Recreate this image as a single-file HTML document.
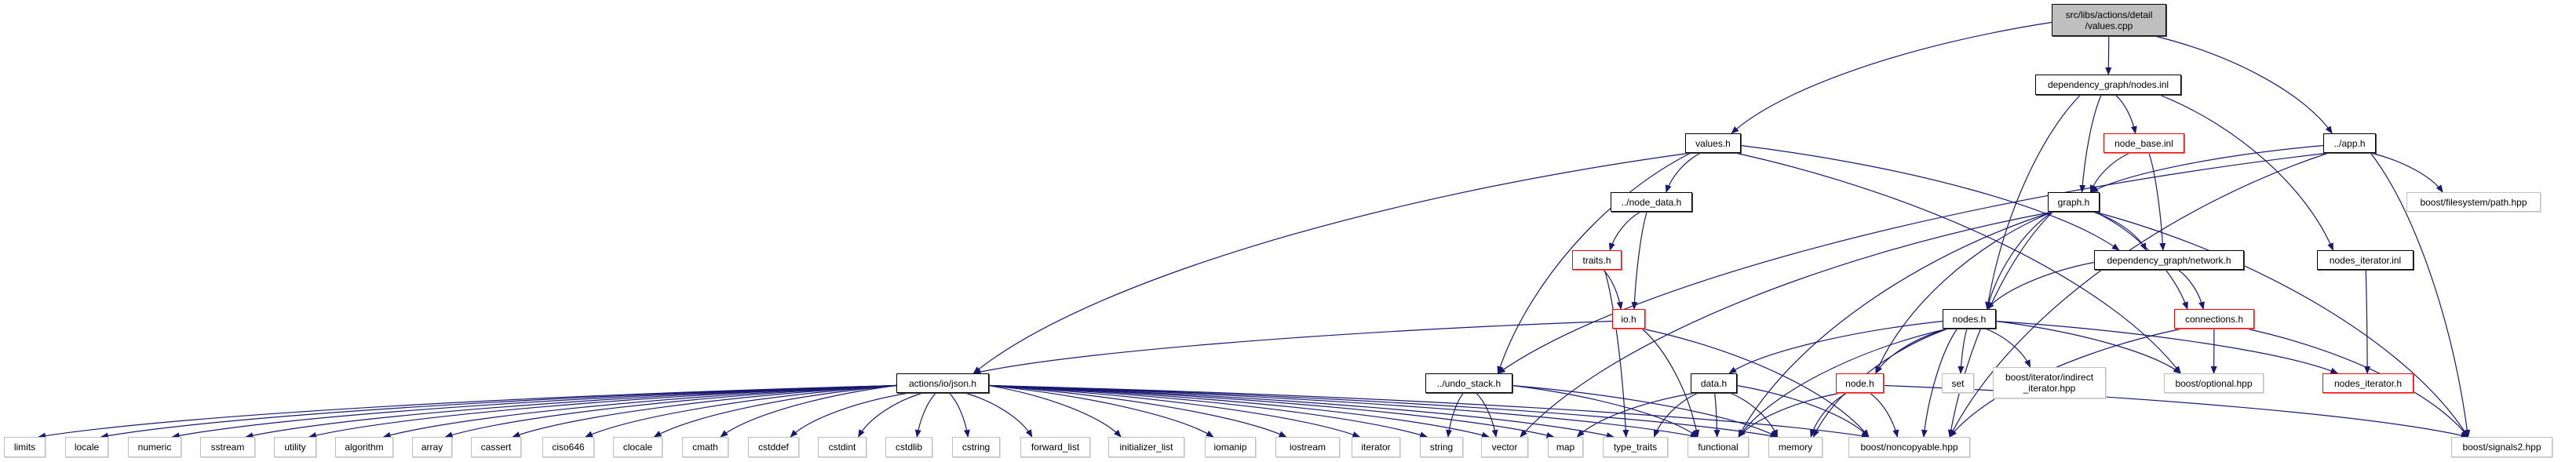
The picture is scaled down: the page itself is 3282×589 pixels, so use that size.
<!DOCTYPE html>
<html><head><meta charset="utf-8">
<style>
html,body{margin:0;padding:0;background:#fff;}
#c{position:relative;width:3282px;height:589px;overflow:hidden;}
.n{position:absolute;box-sizing:border-box;background:#fff;font-family:"Liberation Sans",sans-serif;font-size:12px;color:#000;display:flex;align-items:center;justify-content:center;text-align:center;line-height:14px;white-space:nowrap;}
.b{border:1px solid #000;box-shadow:1px 1px 0 #444;}
.r{border:1px solid #f00;box-shadow:1px 1px 0 #f66;}
.g{border:1px solid #bfbfbf;box-shadow:1px 1px 0 #ddd;}
.t{background:#bfbfbf;}
svg{position:absolute;left:0;top:0;}
</style></head><body><div id="c">
<svg id="s" width="3282" height="589"><defs><marker id="a" markerWidth="10" markerHeight="8" refX="9" refY="4" orient="auto" markerUnits="userSpaceOnUse"><path d="M0,0 L10,4 L0,8 z" fill="#191970"/></marker></defs></svg>
</div>
<script>
var N={
vc:[2614,5,2760,46,'b t','src/libs/actions/detail<br>/values.cpp'],
ni:[2593,95,2779,121,'b','dependency_graph/nodes.inl'],
vh:[2147,170,2218,195,'b','values.h'],
nb:[2680,170,2783,195,'r','node_base.inl'],
ap:[2960,170,3027,195,'b','../app.h'],
nd:[2052,245,2156,270,'b','../node_data.h'],
gh:[2609,245,2675,270,'b','graph.h'],
fs:[3066,245,3237,270,'g','boost/filesystem/path.hpp'],
tr:[2003,319,2066,344,'r','traits.h'],
nw:[2668,319,2859,344,'b','dependency_graph/network.h'],
nti:[2952,319,3075,344,'b','nodes_iterator.inl'],
io:[2054,394,2096,419,'r','io.h'],
ns:[2475,394,2543,419,'b','nodes.h'],
cn:[2770,394,2872,419,'r','connections.h'],
js:[1142,476,1260,501,'b','actions/io/json.h'],
us:[1816,476,1927,501,'b','../undo_stack.h'],
dt:[2154,476,2213,501,'b','data.h'],
nh:[2339,476,2400,501,'r','node.h'],
st:[2474,476,2515,501,'g','set'],
ii:[2539,468,2683,508,'g','boost/iterator/indirect<br>_iterator.hpp'],
op:[2757,476,2884,501,'g','boost/optional.hpp'],
nih:[2959,476,3075,501,'r','nodes_iterator.h'],
limits:[5,557,58,583,'g','limits'],
locale:[83,557,138,583,'g','locale'],
numeric:[163,557,231,583,'g','numeric'],
sstream:[255,557,325,583,'g','sstream'],
utility:[349,557,403,583,'g','utility'],
algorithm:[427,557,501,583,'g','algorithm'],
array:[525,557,576,583,'g','array'],
cassert:[600,557,664,583,'g','cassert'],
ciso646:[691,557,757,583,'g','ciso646'],
clocale:[781,557,844,583,'g','clocale'],
cmath:[869,557,928,583,'g','cmath'],
cstddef:[953,557,1018,583,'g','cstddef'],
cstdint:[1042,557,1104,583,'g','cstdint'],
cstdlib:[1128,557,1188,583,'g','cstdlib'],
cstring:[1213,557,1274,583,'g','cstring'],
forward_list:[1300,557,1389,583,'g','forward_list'],
initializer_list:[1412,557,1509,583,'g','initializer_list'],
iomanip:[1535,557,1600,583,'g','iomanip'],
iostream:[1625,557,1707,583,'g','iostream'],
iterator:[1722,557,1784,583,'g','iterator'],
string:[1809,557,1864,583,'g','string'],
vector:[1887,557,1947,583,'g','vector'],
map:[1972,557,2017,583,'g','map'],
type_traits:[2042,557,2125,583,'g','type_traits'],
functional:[2150,557,2228,583,'g','functional'],
memory:[2253,557,2322,583,'g','memory'],
nc:[2355,557,2510,583,'g','boost/noncopyable.hpp'],
sg:[3123,557,3252,583,'g','boost/signals2.hpp']
};
var E=[['vc','vh'],['vc','ni'],['vc','ap'],
['ni','nb'],['ni','gh'],['ni','ns'],['ni','nti'],
['vh','js'],['vh','us'],['vh','nd'],['vh','nw'],['vh','op'],
['nb','gh'],['nb','nw'],
['ap','gh'],['ap','us'],['ap','fs'],['ap','sg'],['ap','nc'],
['nd','io'],['nd','tr'],
['gh','nw'],['gh','ns'],['gh','nh'],['gh','cn'],['gh','nc'],['gh','functional'],['gh','vector'],['gh','sg'],
['tr','io'],['tr','type_traits'],
['io','js'],['io','functional'],['io','nc'],
['nw','ns'],['nw','cn'],['nti','nih'],
['ns','dt'],['ns','nh'],['ns','st'],['ns','ii'],['ns','op'],['ns','nih'],['ns','nc'],['ns','memory'],['ns','functional'],
['cn','op'],['cn','sg'],['cn','nc'],
['us','string'],['us','vector'],['us','functional'],['us','memory'],
['dt','type_traits'],['dt','functional'],['dt','memory'],['dt','nc'],['dt','map'],
['nh','memory'],['nh','functional'],['nh','nc'],['nh','sg']];
['limits','locale','numeric','sstream','utility','algorithm','array','cassert','ciso646','clocale','cmath','cstddef','cstdint','cstdlib','cstring','forward_list','initializer_list','iomanip','iostream','iterator','string','vector','map','type_traits','functional','memory','nc'].forEach(function(k){E.push(['js',k]);});
var c=document.getElementById('c'),s=document.getElementById('s'),h='';
for(var k in N){var d=N[k];var e=document.createElement('div');e.className='n '+d[4];
e.style.cssText='left:'+d[0]+'px;top:'+d[1]+'px;width:'+(d[2]-d[0])+'px;height:'+(d[3]-d[1])+'px';e.innerHTML=d[5];c.appendChild(e);}
E.forEach(function(p){var a=N[p[0]],b=N[p[1]];
var acx=(a[0]+a[2])/2,bcx=(b[0]+b[2])/2;
var sx,sy,tx,ty;
var dy=b[1]-a[3];
if(dy<10){
 sy=(a[1]+a[3])/2; ty=(b[1]+b[3])/2;
 if(bcx<acx){sx=a[0];tx=b[2];}else{sx=a[2];tx=b[0];}
 h+='<path d="M'+sx+','+sy+' L'+tx+','+ty+'" fill="none" stroke="#191970" stroke-width="1.2" marker-end="url(#a)"/>';return;}
var dx=bcx-acx;
if(Math.abs(dx)>4*dy){sy=(a[1]+a[3])/2+3;sx=dx<0?a[0]:a[2];}
else{sy=a[3];sx=acx+Math.max(-(a[2]-a[0])/2.5,Math.min((a[2]-a[0])/2.5,dx*0.2));}
ty=b[1];tx=bcx+Math.max(-(b[2]-b[0])/3,Math.min((b[2]-b[0])/3,(sx-bcx)*0.3));
h+='<path d="M'+sx+','+sy+' C'+(sx+(tx-sx)*0.45)+','+(sy+(ty-sy)*0.2)+' '+(sx+(tx-sx)*0.85)+','+(sy+(ty-sy)*0.6)+' '+tx+','+ty+'" fill="none" stroke="#191970" stroke-width="1.2" marker-end="url(#a)"/>';});
s.innerHTML+=h;
</script>
</body></html>
